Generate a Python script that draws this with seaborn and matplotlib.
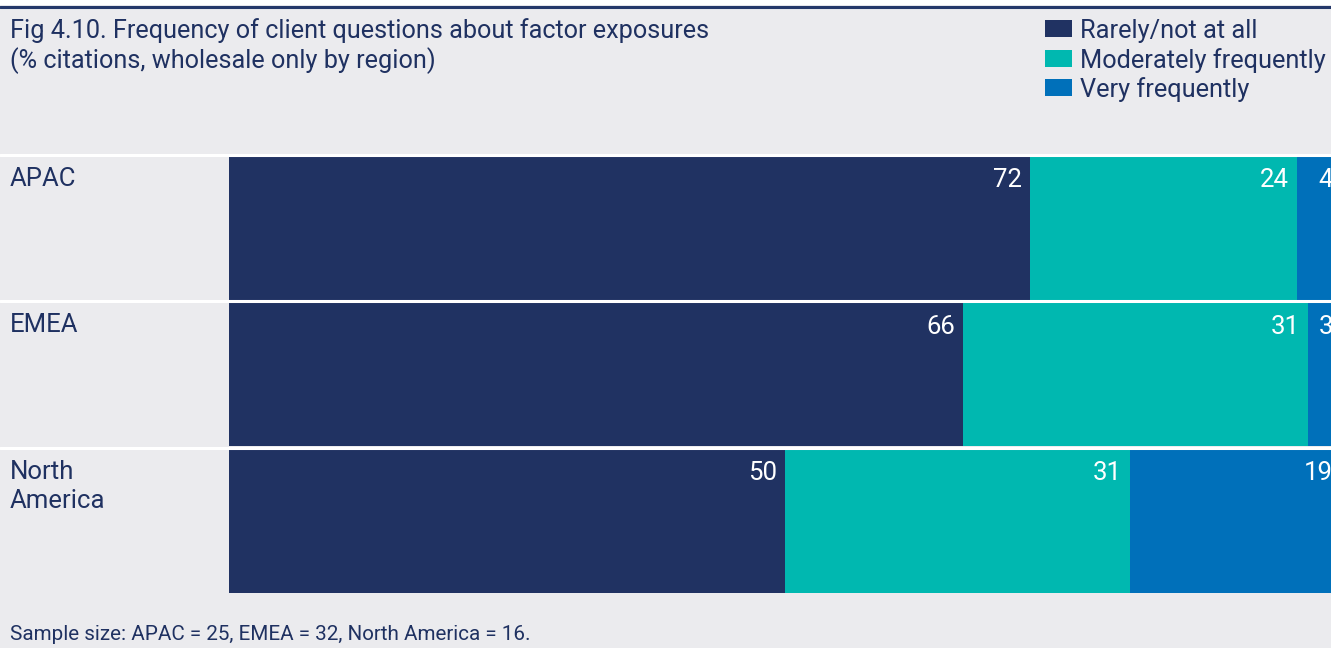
import numpy as np
import pandas as pd
import seaborn as sns
import matplotlib.pyplot as plt

regions = ["APAC", "EMEA", "North America"]
region_labels = ["APAC", "EMEA", "North\nAmerica"]
series = ["Rarely/not at all", "Moderately frequently", "Very frequently"]
rarely = [72, 66, 50]
moderately = [24, 31, 31]
very = [4, 3, 19]
colors = ["#203262", "#00b8b0", "#0070ba"]

bg = "#ebebee"
navy = "#1f3161"
font = ["Roboto", "DejaVu Sans"]

sns.set_theme(style="white")
plt.rcParams["font.family"] = font

fig = plt.figure(figsize=(13.31, 6.48), dpi=100)
fig.patch.set_facecolor(bg)
W, H = 1331, 648

# axes: x 229..1341 px (0..100), y 155..594 px
ax = fig.add_axes([229 / W, (H - 594) / H, 1112 / W, 439 / H])
ax.set_facecolor(bg)

df = pd.DataFrame({"region": regions, series[0]: rarely, series[1]: moderately, series[2]: very})
vals = df[series].to_numpy()
cum = vals.cumsum(axis=1)
for i in reversed(range(len(series))):
    sns.barplot(x=cum[:, i], y=df["region"], color=colors[i], width=0.98,
                orient="h", ax=ax, saturation=1, linewidth=0)

ax.set_xlim(0, 100)
ax.set_ylim(2.5, -0.5)
ax.set_xlabel("")
ax.set_ylabel("")
ax.set_xticks([])
ax.set_yticks([])
for s in ax.spines.values():
    s.set_visible(False)

# value labels
for r in range(len(regions)):
    for i in range(len(series)):
        ax.annotate(str(vals[r, i]), xy=(cum[r, i], r - 0.49), xytext=(-8, -12),
                    textcoords="offset pixels", ha="right", va="top",
                    color="white", fontsize=18.5, annotation_clip=False)

# row separators across the full width
for y in [-0.5, 0.5, 1.5]:
    ax.axhline(y, xmin=-229 / 1112, xmax=1, color="white", lw=2.2, clip_on=False)

# category labels
for r, lab in enumerate(region_labels):
    ax.annotate(lab, xy=(0, r - 0.5), xycoords=("figure pixels", "data"),
                xytext=(10, -12), textcoords="offset pixels", ha="left", va="top",
                color=navy, fontsize=18.5, linespacing=1.27, annotation_clip=False)

# top rule
fig.add_artist(plt.Rectangle((0, (H - 5) / H), 1, 5 / H, transform=fig.transFigure,
                             color="white", lw=0))
fig.add_artist(plt.Line2D([0, 1], [(H - 7) / H] * 2, transform=fig.transFigure,
                          color="#24386a", lw=2.2))

# title
fig.text(10 / W, 1 - 18 / H, "Fig 4.10. Frequency of client questions about factor exposures\n"
         "(% citations, wholesale only by region)", ha="left", va="top",
         color=navy, fontsize=18.2, linespacing=1.2)

# legend
for k, name in enumerate(series):
    y = 20 + 29.5 * k
    fig.add_artist(plt.Rectangle((1045 / W, 1 - (y + 17) / H), 27 / W, 17 / H,
                                 transform=fig.transFigure, color=colors[k], lw=0))
    fig.text(1080 / W, 1 - (y + 11) / H, name, ha="left", va="center",
             color=navy, fontsize=18.3)

fig.text(10 / W, 1 - 635 / H, "Sample size: APAC = 25, EMEA = 32, North America = 16.",
         ha="left", va="center", color=navy, fontsize=14.9)

fig.savefig("out.png", dpi=100, facecolor=bg)
